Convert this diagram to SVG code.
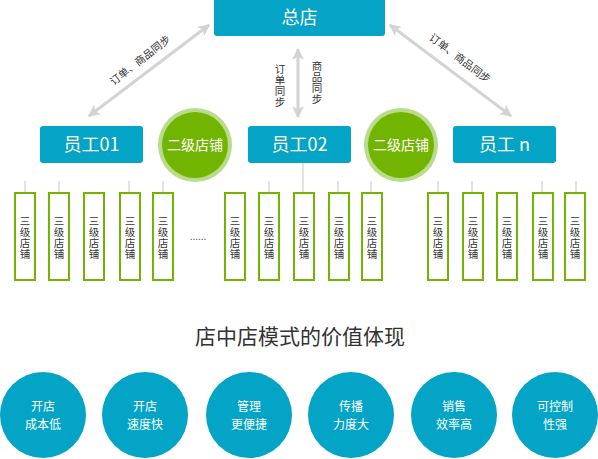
<svg xmlns="http://www.w3.org/2000/svg" width="598" height="459" viewBox="0 0 598 459">
<style>
text{font-family:"Noto Sans CJK SC","Liberation Sans",sans-serif}
.blue{fill:#03a4c5}
.wt{fill:#fff;text-anchor:middle}
.big{font-size:18px}
.mid{font-size:14px}
.cir{font-size:12px}
.sm{font-size:10.5px;fill:#333;text-anchor:middle}
.vt{writing-mode:tb;letter-spacing:0.5px}
.box{fill:#fff;stroke:#72b500;stroke-width:2}
.stub{stroke:#cfcfcf;stroke-width:1.2}
.arr{stroke:#d3d3d3;stroke-width:3;fill:none}
.gout{fill:#b9dc8c}
.gin{fill:#72b500}
</style>
<defs>
<marker id="ah" viewBox="0 0 10 10" refX="9" refY="5" markerWidth="12" markerHeight="12" markerUnits="userSpaceOnUse" orient="auto-start-reverse">
<path d="M0,0 L10,5 L0,10 L2.5,5 Z" fill="#d3d3d3"/>
</marker>
<g id="shop">
<rect class="box" x="1" y="1" width="20" height="87"/>
<text class="sm vt" x="11" y="45.5">三级店铺</text>
</g>
</defs>
<rect width="598" height="459" fill="#fff"/>

<g id="connectors">
<line class="arr" x1="89" y1="116" x2="209" y2="25" marker-start="url(#ah)" marker-end="url(#ah)"/>
<line class="arr" x1="390" y1="25" x2="511" y2="116" marker-start="url(#ah)" marker-end="url(#ah)"/>
<line class="arr" x1="298" y1="49" x2="298" y2="117" marker-start="url(#ah)" marker-end="url(#ah)"/>
<line class="stub" x1="25" y1="181" x2="25" y2="192"/>
<line class="stub" x1="59" y1="181" x2="59" y2="192"/>
<line class="stub" x1="129" y1="181" x2="129" y2="192"/>
<line class="stub" x1="163" y1="181" x2="163" y2="192"/>
<line class="stub" x1="269" y1="181" x2="269" y2="192"/>
<line class="stub" x1="303" y1="163" x2="303" y2="192"/>
<line class="stub" x1="338" y1="181" x2="338" y2="192"/>
<line class="stub" x1="371" y1="181" x2="371" y2="192"/>
<line class="stub" x1="438" y1="181" x2="438" y2="192"/>
<line class="stub" x1="472" y1="181" x2="472" y2="192"/>
<line class="stub" x1="542" y1="181" x2="542" y2="192"/>
<line class="stub" x1="576" y1="181" x2="576" y2="192"/>
<g transform="translate(140,60) rotate(-38)"><text class="sm" x="0" y="4">订单、商品同步</text></g>
<g transform="translate(460,58) rotate(37)"><text class="sm" x="0" y="4">订单、商品同步</text></g>
<text class="sm vt" x="280" y="86">订单同步</text>
<text class="sm vt" x="317" y="83">商品同步</text>
</g>

<g id="hq">
<rect class="blue" x="214" y="-4" width="171" height="40" rx="3"/>
<text class="wt big" x="299.5" y="24">总店</text>
</g>

<g id="staff01">
<rect class="blue" x="40" y="126" width="103" height="37" rx="3"/>
<text class="wt big" x="91.5" y="151">员工01</text>
</g>
<g id="staff02">
<rect class="blue" x="248" y="126" width="103" height="37" rx="3"/>
<text class="wt big" x="299.5" y="151">员工02</text>
</g>
<g id="staffn">
<rect class="blue" x="453" y="126" width="103" height="37" rx="3"/>
<text class="wt big" x="504.5" y="151">员工 n</text>
</g>

<g id="level2-a">
<circle class="gout" cx="195" cy="145" r="37"/>
<circle class="gin" cx="195" cy="145" r="33"/>
<text class="wt mid" x="195" y="150">二级店铺</text>
</g>
<g id="level2-b">
<circle class="gout" cx="401" cy="145" r="37"/>
<circle class="gin" cx="401" cy="145" r="33"/>
<text class="wt mid" x="401" y="150">二级店铺</text>
</g>

<g id="shop1"><use href="#shop" x="14" y="192"/></g>
<g id="shop2"><use href="#shop" x="48" y="192"/></g>
<g id="shop3"><use href="#shop" x="83" y="192"/></g>
<g id="shop4"><use href="#shop" x="119" y="192"/></g>
<g id="shop5"><use href="#shop" x="152" y="192"/></g>
<g id="ellipsis"><text x="198" y="240" style="font-size:10px;fill:#555;text-anchor:middle">......</text></g>
<g id="shop6"><use href="#shop" x="224" y="192"/></g>
<g id="shop7"><use href="#shop" x="258" y="192"/></g>
<g id="shop8"><use href="#shop" x="293" y="192"/></g>
<g id="shop9"><use href="#shop" x="328" y="192"/></g>
<g id="shop10"><use href="#shop" x="361" y="192"/></g>
<g id="shop11"><use href="#shop" x="427" y="192"/></g>
<g id="shop12"><use href="#shop" x="462" y="192"/></g>
<g id="shop13"><use href="#shop" x="496" y="192"/></g>
<g id="shop14"><use href="#shop" x="532" y="192"/></g>
<g id="shop15"><use href="#shop" x="564" y="192"/></g>

<g id="title"><text x="300" y="344" style="font-size:21px;fill:#333;text-anchor:middle">店中店模式的价值体现</text></g>

<g id="v1"><circle class="blue" cx="43" cy="415" r="43"/><text class="wt cir"><tspan x="43" y="411">开店</tspan><tspan x="43" y="428.5">成本低</tspan></text></g>
<g id="v2"><circle class="blue" cx="145" cy="415" r="43"/><text class="wt cir"><tspan x="145" y="411">开店</tspan><tspan x="145" y="428.5">速度快</tspan></text></g>
<g id="v3"><circle class="blue" cx="249" cy="415" r="43"/><text class="wt cir"><tspan x="249" y="411">管理</tspan><tspan x="249" y="428.5">更便捷</tspan></text></g>
<g id="v4"><circle class="blue" cx="351" cy="415" r="43"/><text class="wt cir"><tspan x="351" y="411">传播</tspan><tspan x="351" y="428.5">力度大</tspan></text></g>
<g id="v5"><circle class="blue" cx="454" cy="415" r="43"/><text class="wt cir"><tspan x="454" y="411">销售</tspan><tspan x="454" y="428.5">效率高</tspan></text></g>
<g id="v6"><circle class="blue" cx="555" cy="415" r="43"/><text class="wt cir"><tspan x="555" y="411">可控制</tspan><tspan x="555" y="428.5">性强</tspan></text></g>
</svg>
